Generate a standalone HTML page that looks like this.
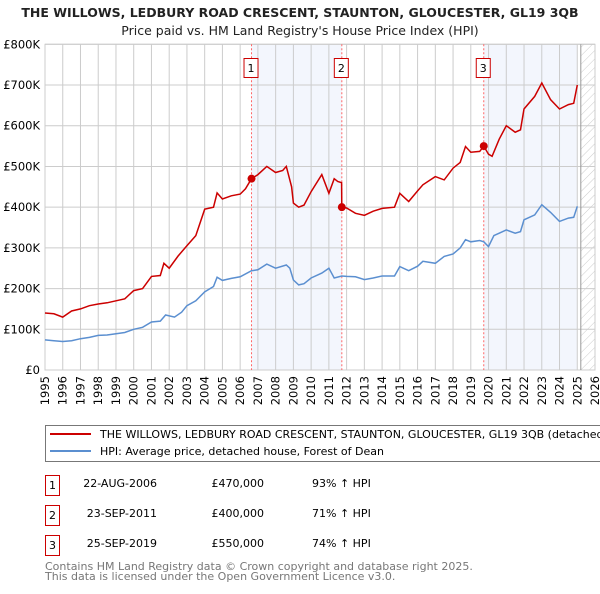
<!DOCTYPE html>
<html><head><meta charset="utf-8"><style>
body{margin:0;background:#fff;font-family:"DejaVu Sans","Liberation Sans",sans-serif;}
svg text{font-family:"DejaVu Sans","Liberation Sans",sans-serif;}
</style></head><body>
<svg id="chart" width="600" height="590" xmlns="http://www.w3.org/2000/svg">
<defs><pattern id="hatch" width="6" height="6" patternUnits="userSpaceOnUse" patternTransform="rotate(45)"><line x1="0" y1="0" x2="0" y2="6" stroke="#ccc" stroke-width="1"/></pattern></defs>
<text x="300" y="17" text-anchor="middle" font-size="12.5" font-weight="bold" fill="#222">THE WILLOWS, LEDBURY ROAD CRESCENT, STAUNTON, GLOUCESTER, GL19 3QB</text>
<text x="300" y="35" text-anchor="middle" font-size="12.5" fill="#222">Price paid vs. HM Land Registry's House Price Index (HPI)</text>
<g id="plot"></g>
<g>
<rect x="45.5" y="425.5" width="560" height="36" fill="#fff" stroke="#777"/>
<line x1="50" y1="434" x2="91" y2="434" stroke="#cc0000" stroke-width="2"/>
<text x="100" y="438" font-size="11" fill="#000">THE WILLOWS, LEDBURY ROAD CRESCENT, STAUNTON, GLOUCESTER, GL19 3QB (detached house)</text>
<line x1="50" y1="451" x2="91" y2="451" stroke="#5b8fd0" stroke-width="2"/>
<text x="100" y="455" font-size="11" fill="#000">HPI: Average price, detached house, Forest of Dean</text>
</g>
<g font-size="11" fill="#000">
<rect x="45.5" y="475.5" width="14" height="20" fill="none" stroke="#cc0000"/><text x="52.5" y="489" text-anchor="middle">1</text>
<text x="157" y="487" text-anchor="end">22-AUG-2006</text><text x="264" y="487" text-anchor="end">£470,000</text><text x="312" y="487">93% ↑ HPI</text>
<rect x="45.5" y="505.5" width="14" height="20" fill="none" stroke="#cc0000"/><text x="52.5" y="519" text-anchor="middle">2</text>
<text x="157" y="517" text-anchor="end">23-SEP-2011</text><text x="264" y="517" text-anchor="end">£400,000</text><text x="312" y="517">71% ↑ HPI</text>
<rect x="45.5" y="535.5" width="14" height="20" fill="none" stroke="#cc0000"/><text x="52.5" y="549" text-anchor="middle">3</text>
<text x="157" y="547" text-anchor="end">25-SEP-2019</text><text x="264" y="547" text-anchor="end">£550,000</text><text x="312" y="547">74% ↑ HPI</text>
</g>
<text x="45" y="570" font-size="11" fill="#777">Contains HM Land Registry data © Crown copyright and database right 2025.</text>
<text x="45" y="580" font-size="11" fill="#777">This data is licensed under the Open Government Licence v3.0.</text>
</svg>
<script>
const yTicks=[0,100000,200000,300000,400000,500000,600000,700000,800000];
const yTickLabels=["£0","£100K","£200K","£300K","£400K","£500K","£600K","£700K","£800K"];
const xYears=[1995,1996,1997,1998,1999,2000,2001,2002,2003,2004,2005,2006,2007,2008,2009,2010,2011,2012,2013,2014,2015,2016,2017,2018,2019,2020,2021,2022,2023,2024,2025,2026];
const hpiT=[1995,1995.5,1996,1996.5,1997,1997.5,1998,1998.5,1999,1999.5,2000,2000.5,2001,2001.5,2001.8,2002.3,2002.7,2003,2003.5,2004,2004.5,2004.7,2005,2005.5,2006,2006.64,2007,2007.5,2008,2008.6,2008.8,2009,2009.3,2009.6,2010,2010.6,2011,2011.3,2011.73,2012,2012.5,2013,2013.5,2014,2014.7,2015,2015.5,2016,2016.3,2017,2017.5,2018,2018.4,2018.7,2019,2019.5,2019.73,2020,2020.3,2020.6,2021,2021.5,2021.8,2022,2022.6,2023,2023.5,2024,2024.5,2024.8,2025];
const hpiV=[74000,72000,70000,72000,77000,80000,85000,86000,89000,92000,100000,105000,118000,120000,135000,130000,142000,158000,170000,192000,205000,228000,220000,225000,229000,244000,246000,260000,250000,258000,250000,221000,209000,212000,226000,238000,250000,226000,231000,230000,229000,222000,226000,231000,231000,254000,244000,255000,267000,262000,279000,285000,300000,320000,315000,318000,315000,303000,330000,336000,344000,336000,340000,369000,381000,406000,387000,365000,373000,375000,402000];
const saleT=[1995,1995.5,1996,1996.5,1997,1997.5,1998,1998.5,1999,1999.5,2000,2000.5,2001,2001.5,2001.7,2002,2002.5,2003,2003.5,2004,2004.5,2004.7,2005,2005.5,2006,2006.3,2006.64,2007,2007.5,2008,2008.4,2008.6,2008.9,2009,2009.3,2009.6,2010,2010.6,2011,2011.3,2011.5,2011.72,2011.73,2012,2012.5,2013,2013.5,2014,2014.7,2015,2015.5,2016,2016.3,2017,2017.5,2018,2018.4,2018.7,2019,2019.5,2019.73,2020,2020.2,2020.6,2021,2021.5,2021.8,2022,2022.6,2023,2023.5,2024,2024.5,2024.8,2025];
const saleV=[140000,138000,130000,145000,150000,158000,162000,165000,170000,175000,195000,200000,230000,232000,262000,250000,280000,305000,330000,395000,400000,435000,420000,428000,432000,445000,470000,480000,500000,485000,490000,500000,450000,410000,400000,405000,438000,480000,434000,470000,463000,460000,400000,398000,385000,380000,390000,397000,400000,434000,414000,440000,455000,475000,467000,496000,510000,549000,535000,537000,550000,530000,525000,567000,600000,584000,590000,641000,672000,705000,664000,641000,652000,655000,700000];
const saleMarkT=[2006.64,2011.73,2019.73];
const saleMarkV=[470000,400000,550000];
const saleLabels=["1","2","3"];

const NS="http://www.w3.org/2000/svg";
const L=45,R=595,T=44.3,B=370;
const x=t=>L+(t-1995)*(R-L)/31;
const y=v=>B-v/800000*(B-T);
const g=document.getElementById('plot');
function mk(tag,attrs,parent){const e=document.createElementNS(NS,tag);for(const k in attrs)e.setAttribute(k,attrs[k]);(parent||g).appendChild(e);return e;}
// shading
const sh1=mk('rect',{x:x(saleMarkT[0]),y:T,width:x(saleMarkT[1])-x(saleMarkT[0]),height:B-T,fill:'#eef2fc',opacity:0.7});


const sh2=mk('rect',{x:x(saleMarkT[2]),y:T,width:x(2025)-x(saleMarkT[2]),height:B-T,fill:'#eef2fc',opacity:0.7});


const hz=mk('rect',{x:x(2025.2),y:T,width:R-x(2025.2),height:B-T,fill:'url(#hatch)'});


// grid
xYears.forEach(yr=>{
 const l=mk('line',{x1:x(yr),x2:x(yr),y1:T,y2:B,stroke:'#ccc','stroke-width':1});
 
 
 const t=mk('text',{x:0,y:0,'font-size':11.5,fill:'#000','text-anchor':'end',transform:`translate(${x(yr)+4},${B+6}) rotate(-90)`});
 t.textContent=yr;
 
 
});
yTicks.forEach((v,i)=>{
 const l=mk('line',{x1:L,x2:R,y1:y(v),y2:y(v),stroke:'#ccc','stroke-width':1});
 
 
 const t=mk('text',{x:L-5,y:y(v)+4,'font-size':11.5,fill:'#000','text-anchor':'end'});
 t.textContent=yTickLabels[i];
 
 
});
const bx=mk('rect',{x:L,y:T,width:R-L,height:B-T,fill:'none',stroke:'#ccc'});


const nowL=mk('line',{x1:x(2025.2),x2:x(2025.2),y1:T,y2:B,stroke:'#999','stroke-width':1});


// vlines + labels
saleMarkT.forEach((t,i)=>{
 const l=mk('line',{x1:x(t),x2:x(t),y1:T,y2:B,stroke:'#ff6666','stroke-width':1,'stroke-dasharray':'2,2'});
 
 
 const r=mk('rect',{x:x(t)-7.5,y:58.5,width:14,height:19,fill:'#fff',stroke:'#cc0000'});
 
 
 const tx=mk('text',{x:x(t)-0.5,y:72,'font-size':11,'text-anchor':'middle',fill:'#000'});
 tx.textContent=saleLabels[i];
 
 
});
const pts=(ts,vs)=>ts.map((t,i)=>x(t).toFixed(1)+','+y(vs[i]).toFixed(1)).join(' ');
const hl=mk('polyline',{points:pts(hpiT,hpiV),fill:'none',stroke:'#5b8fd0','stroke-width':1.5});


const sl=mk('polyline',{points:pts(saleT,saleV),fill:'none',stroke:'#cc0000','stroke-width':1.5});


saleMarkT.forEach((t,i)=>{
 const c=mk('circle',{cx:x(t),cy:y(saleMarkV[i]),r:4,fill:'#cc0000'});
 
 
});
</script>
</body></html>
